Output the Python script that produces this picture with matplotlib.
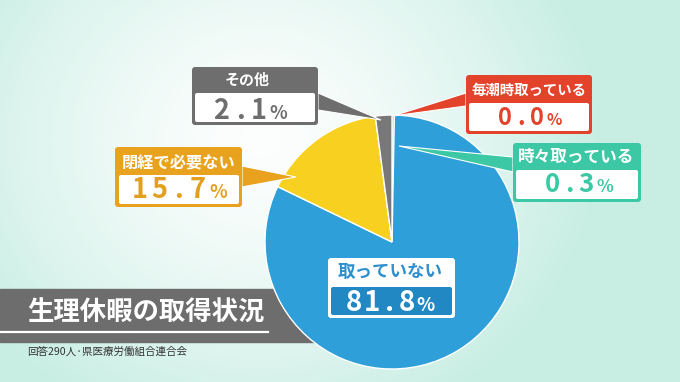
import numpy as np
import matplotlib
matplotlib.use("Agg")
import matplotlib.pyplot as plt
from matplotlib.patches import FancyBboxPatch, Polygon, Rectangle

plt.rcParams['font.family'] = ['Noto Sans CJK JP', 'DejaVu Sans']

# data, clockwise from 12 o'clock
labels = ['毎潮時取っている', '時々取っている', '取っていない', '閉経で必要ない', 'その他']
values = [0.0, 0.3, 81.8, 15.7, 2.1]
value_text = ['0.0', '0.3', '81.8', '15.7', '2.1']
slice_colors = ['#e3432b', '#3cc8a5', '#2e9fd9', '#f8d020', '#787878']
box_colors = ['#e3432b', '#3cc8a5', '#2e9fd9', '#e8a21e', '#6e6e6e']
title = '生理休暇の取得状況'
source = '回答290人·県医療労働組合連合会'

fig = plt.figure(figsize=(6.8, 3.82), dpi=100)
ax = fig.add_axes([0, 0, 1, 1])

# background gradient
yy, xx = np.mgrid[0:382, 0:680]
d = np.sqrt(((xx - 260) / 1.0) ** 2 + ((yy - 140) / 0.9) ** 2)
t = np.clip(d / 340, 0, 1) ** 1.4
c0 = np.array([253, 254, 254]) / 255
c1 = np.array([200, 238, 227]) / 255
bg = c0 + (c1 - c0) * t[..., None]
ax.imshow(bg, extent=[0, 680, 382, 0], zorder=0, aspect='auto')

# title banner (behind the pie)
ax.add_patch(Rectangle((0, 289), 330, 53, color='#6d6d6d', zorder=1))
ax.plot([0, 268], [332, 332], color='white', lw=1.6, zorder=2)
ax.text(27, 313, title, color='white', fontsize=19, fontweight='bold',
        ha='left', va='center', zorder=3)
ax.text(27, 352, source, color='#333333', fontsize=7.6, ha='left', va='center', zorder=3)

# pie (y axis is inverted, so counterclock=True is clockwise on screen)
ax.pie(values, colors=slice_colors, startangle=-90, counterclock=True,
       center=(392, 242), radius=127,
       wedgeprops=dict(edgecolor='white', linewidth=1.0, zorder=4))

# callouts: outer box, inner box, pointer, title pos, value pos, sizes
callouts = [
    dict(outer=(466, 75, 592, 134), inner=(469, 103, 589, 131),
         ptr=[(466, 93), (466, 106), (393, 116)], tpos=(529.5, 91), tsize=10.4,
         vpos=(529.5, 117), vsize=17.0, pitch=16),
    dict(outer=(513, 143, 641, 202), inner=(516, 170, 638, 199),
         ptr=[(513, 157), (513, 172), (399, 146)], tpos=(576.5, 157), tsize=12,
         vpos=(578.5, 184), vsize=18.5, pitch=17),
    dict(outer=(328, 258, 455, 318), inner=(331, 287, 452, 315),
         ptr=None, tpos=(390.5, 272), tsize=12.6,
         vpos=(390, 302), vsize=20.0, pitch=17.5),
    dict(outer=(115, 147, 242, 207), inner=(119, 175, 239, 204),
         ptr=[(242, 166), (242, 187), (296, 177)], tpos=(179, 162), tsize=11.7,
         vpos=(179, 189), vsize=19.5, pitch=19),
    dict(outer=(192, 67, 318, 125), inner=(195, 93, 315, 122),
         ptr=[(318, 93), (318, 110), (381, 120)], tpos=(247, 80), tsize=10.8,
         vpos=(250, 110), vsize=19.5, pitch=18.5),
]

for i, cfg in enumerate(callouts):
    col = box_colors[i]
    inverted = (i == 2)
    frame = 'white' if inverted else col
    fill = '#2288c4' if inverted else 'white'
    tcol = '#2e8fcf' if inverted else 'white'
    vcol = 'white' if inverted else col
    if i == 3:
        vcol = '#e3a020'

    if cfg['ptr'] is not None:
        ax.add_patch(Polygon(cfg['ptr'], closed=True, facecolor=col,
                             edgecolor='white', lw=0.8, zorder=5))
    x0, y0, x1, y1 = cfg['outer']
    ax.add_patch(FancyBboxPatch((x0, y0), x1 - x0, y1 - y0,
                                boxstyle='round,pad=0,rounding_size=3',
                                facecolor=frame, edgecolor='none', zorder=6))
    x0, y0, x1, y1 = cfg['inner']
    ax.add_patch(FancyBboxPatch((x0, y0), x1 - x0, y1 - y0,
                                boxstyle='round,pad=0,rounding_size=2',
                                facecolor=fill, edgecolor='none', zorder=7))
    ax.text(cfg['tpos'][0], cfg['tpos'][1], labels[i], color=tcol,
            fontsize=cfg['tsize'], fontweight='bold', ha='center', va='center', zorder=8)

    # value with wide letter spacing and a smaller percent sign
    chars = list(value_text[i]) + ['%']
    p = cfg['pitch']
    steps = [p] * (len(chars) - 2) + [p * 1.08]
    pos = np.concatenate([[0], np.cumsum(steps)])
    pos = pos - pos[-1] / 2 + cfg['vpos'][0]
    h = cfg['vsize'] / 0.72 * 0.64
    base = cfg['vpos'][1] + h / 2
    for ch, xc in zip(chars, pos):
        fs = cfg['vsize'] * (0.68 if ch == '%' else 1.0)
        ax.text(xc, base, ch, color=vcol, fontsize=fs, fontweight='bold',
                ha='center', va='baseline', zorder=8)

ax.set_xlim(0, 680)
ax.set_ylim(382, 0)
ax.set_axis_off()
fig.savefig('out.png', dpi=100)
